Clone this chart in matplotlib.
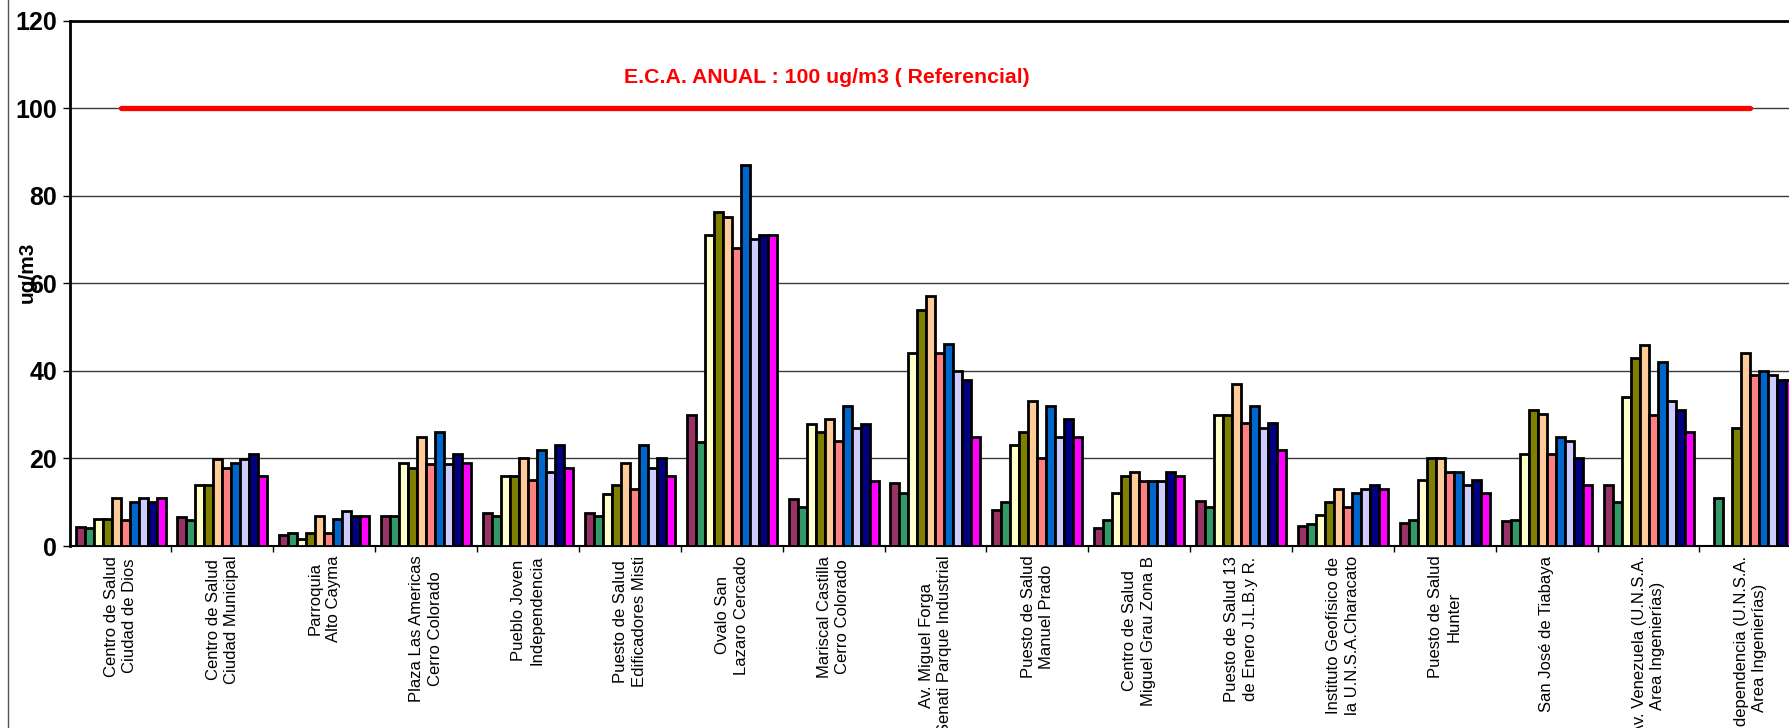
import numpy as np
import matplotlib.pyplot as plt
from matplotlib.lines import Line2D

# Estaciones de monitoreo
estaciones = [
    "Centro de Salud\nCiudad de Dios",
    "Centro de Salud\nCiudad Municipal",
    "Parroquia\nAlto Cayma",
    "Plaza Las Americas\nCerro Colorado",
    "Pueblo Joven\nIndependencia",
    "Puesto de Salud\nEdificadores Misti",
    "Ovalo San\nLazaro Cercado",
    "Mariscal Castilla\nCerro Colorado",
    "Av. Miguel Forga\nSenati Parque Industrial",
    "Puesto de Salud\nManuel Prado",
    "Centro de Salud\nMiguel Grau Zona B",
    "Puesto de Salud 13\nde Enero J.L.B.y R.",
    "Instituto Geofísico de\nla U.N.S.A.Characato",
    "Puesto de Salud\nHunter",
    "San José de Tiabaya",
    "Av. Venezuela (U.N.S.A.\nArea Ingenierías)",
    "Independencia (U.N.S.A.\nArea Ingenierías)",
]

# Valores por serie (ug/m3)
serie_1 = [4.4, 6.7, 2.5, 6.9, 7.6, 7.6, 30.0, 10.8, 14.3, 8.2, 4.0, 10.3, 4.6, 5.3, 5.6, 14.0, 0]
serie_2 = [4.0, 5.9, 2.9, 6.9, 6.9, 6.9, 23.8, 8.9, 12.0, 10.0, 6.0, 9.0, 5.0, 6.0, 6.0, 10.0, 11.0]
serie_3 = [6.1, 13.9, 1.7, 19.0, 16.0, 11.8, 71.1, 27.9, 44.0, 23.0, 12.0, 29.9, 7.0, 15.0, 21.0, 34.0, 0]
serie_4 = [6.1, 13.9, 2.9, 17.9, 16.0, 13.9, 76.2, 26.0, 54.0, 26.0, 16.0, 29.9, 10.0, 20.0, 31.1, 43.0, 27.0]
serie_5 = [10.9, 19.8, 6.9, 25.0, 20.0, 19.0, 75.1, 29.0, 57.1, 33.1, 16.9, 37.0, 13.0, 20.0, 30.1, 46.0, 44.0]
serie_6 = [5.9, 17.9, 2.9, 18.8, 15.0, 13.0, 68.1, 24.0, 44.0, 20.0, 14.9, 28.0, 9.0, 17.0, 21.0, 30.0, 39.0]
serie_7 = [10.0, 19.0, 6.1, 26.0, 22.0, 23.1, 87.1, 32.0, 46.1, 32.0, 14.9, 32.0, 12.0, 17.0, 25.0, 42.0, 40.0]
serie_8 = [10.9, 19.8, 8.1, 18.8, 16.9, 17.9, 70.1, 26.9, 39.9, 25.0, 14.9, 27.0, 13.0, 14.0, 24.0, 33.0, 39.0]
serie_9 = [10.0, 21.0, 6.9, 21.0, 23.1, 20.0, 71.1, 27.9, 38.0, 29.0, 16.9, 28.0, 14.0, 15.0, 20.0, 31.0, 38.0]
serie_10 = [10.9, 16.0, 6.9, 19.0, 17.9, 16.0, 71.1, 14.9, 25.0, 25.0, 16.0, 22.0, 13.0, 12.0, 14.0, 26.0, 38.0]

series = [serie_1, serie_2, serie_3, serie_4, serie_5,
          serie_6, serie_7, serie_8, serie_9, serie_10]
colores = ['#993366', '#339966', '#FFFFCC', '#808000', '#FFCC99',
           '#FF8080', '#0066CC', '#CCCCFF', '#000080', '#FF00FF']

eca_anual = 100

plt.rcParams['font.family'] = ['Liberation Sans', 'DejaVu Sans']

fig = plt.figure(figsize=(17.89, 7.28), dpi=100)
ax = fig.add_axes([0.0389, 0.25, 0.968, 0.7218])

x = np.arange(len(estaciones))
w = 0.0883
for j, (vals, c) in enumerate(zip(series, colores)):
    ax.bar(x + (j - 4.5) * w, vals, width=w, color=c,
           edgecolor='black', linewidth=2.0, zorder=3)

# Línea de referencia ECA
ax.plot([0, len(estaciones) - 1], [eca_anual, eca_anual], color='#FF0000',
        lw=3.8, solid_capstyle='round', zorder=4)
ax.text(6.93, 107, 'E.C.A. ANUAL : 100 ug/m3 ( Referencial)', color='#FF0000',
        fontsize=15.3, fontweight='bold', ha='center', va='center')

ax.set_xlim(-0.5, len(estaciones) - 0.5)
ax.set_ylim(0, 120)
ax.set_yticks(np.arange(0, 121, 20))
ax.tick_params(axis='y', direction='out', length=5, width=1, pad=4,
               labelsize=18)
for t in ax.get_yticklabels():
    t.set_fontweight('bold')

ax.set_xticks(x[:-1] + 0.5)
ax.set_xticklabels([])
ax.tick_params(axis='x', which='major', direction='out', length=4, width=1)
ax.set_xticks(x, minor=True)
ax.set_xticklabels(estaciones, minor=True, rotation=90, fontsize=12,
                   va='top', ha='center', multialignment='center',
                   linespacing=1.3)
ax.tick_params(axis='x', which='minor', length=0, pad=7)

ax.yaxis.grid(True, color='#3a3a3a', lw=1.0, zorder=0)
ax.set_axisbelow(True)

ax.spines['left'].set_linewidth(2.0)
ax.spines['top'].set_linewidth(2.0)
ax.spines['bottom'].set_linewidth(1.5)
ax.spines['right'].set_visible(False)

fig.text(27 / 1789, 1 - 272 / 728, 'ug/m3', rotation=90, ha='center',
         va='center', fontsize=15, fontweight='bold')

# borde del área del gráfico
fig.add_artist(Line2D([8 / 1789, 8 / 1789], [0, 1], color='#555555', lw=1))

fig.savefig('out.png', dpi=100)
